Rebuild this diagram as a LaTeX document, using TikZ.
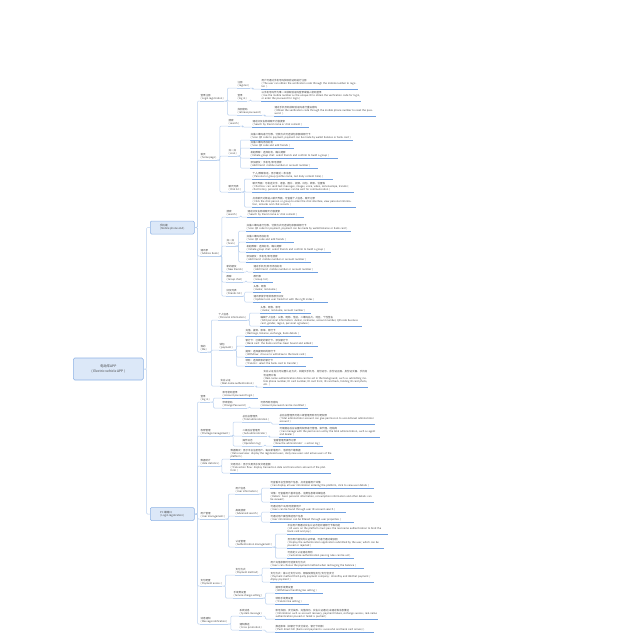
\documentclass[tikz,border=0pt]{standalone}
\usepackage{fontspec}
\setmainfont{Noto Sans CJK SC}
\XeTeXlinebreaklocale "zh"
\XeTeXlinebreakskip=0pt plus 1pt
\definecolor{mapline}{HTML}{B9D0EE}
\definecolor{leafblue}{HTML}{6E9FE0}
\definecolor{boxfill}{HTML}{DCE8F8}
\definecolor{boxedge}{HTML}{8DB2E5}
\definecolor{maptext}{HTML}{404040}
\tikzset{
  rootbox/.style={draw=boxedge, fill=boxfill, rounded corners=1.5pt, line width=0.6pt, text=maptext,
    align=center, font=\fontsize{3.3}{4.3}\selectfont, minimum width=70pt, minimum height=22pt, anchor=west},
  mainbox/.style={draw=boxedge, fill=boxfill, rounded corners=1.2pt, line width=0.5pt, text=maptext,
    align=left, font=\fontsize{2.6}{3.3}\selectfont, minimum width=44pt, minimum height=13pt, anchor=west},
  mapnode/.style={text=maptext, align=left, font=\fontsize{2.5}{3.2}\selectfont,
    inner xsep=0.4pt, inner ysep=0.6pt, anchor=south west},
  topic/.style={mapnode, append after command={(\tikzlastnode.south west) edge[draw=mapline, line width=0.5pt] (\tikzlastnode.south east)}},
  leaf/.style={mapnode, append after command={(\tikzlastnode.south west) edge[draw=leafblue, line width=0.8pt] (\tikzlastnode.south east)}},
  conn/.style={draw=mapline, line width=0.5pt, rounded corners=1pt}
}
\begin{document}
\begin{tikzpicture}[x=1pt, y=-1pt]
  \useasboundingbox (0,0) rectangle (640,640);
  % Root and main branches
  \node[rootbox] (app) at (73,369) {电动车APP\\( Electric vehicle APP )};
  \node[mainbox] (phone) at (150,227.5) {手机端\\( Mobile phone end )};
  \node[mainbox] (pc) at (150,514) {PC 端端口\\( Login registration )};

  % Mobile phone end
  \node[topic] (login) at (200,101) {登录注册\\( Login registration )};
  \node[topic] (home) at (200,160) {首页\\( home page )};
  \node[topic] (contact) at (200,256) {通讯录\\( Address book )};
  \node[topic] (mine) at (200,352) {我的\\( Me )};

  \node[topic] (reg) at (237,88) {注册\\( register )};
  \node[topic] (logon) at (237,101) {登录\\( log in )};
  \node[topic] (findpw) at (237,115) {找回密码\\( retrieve password )};
  \node[leaf, text width=96pt] (regA) at (261,89) {用户可通过手机号码获取验证码进行注册\\( The user can obtain the verification code through the mobile number to register. )};
  \node[leaf, text width=99pt] (logonA) at (261,101) {以手机号码作为唯一ID获取验证码登录或输入密码登录\\( Use the mobile number as the unique ID to obtain the verification code for login, or enter the password for login )};
  \node[leaf, text width=101pt] (findpwA) at (274,116) {通过手机号码获取验证码进行重设密码\\( Obtain the verification code through the mobile phone number to reset the password. )};

  \node[topic] (hsearch) at (228,126) {搜索\\( search )};
  \node[topic] (hscan) at (228,156) {扫一扫\\( scan )};
  \node[topic] (hchat) at (228,192) {聊天列表\\( Chat list )};
  \node[leaf, text width=56pt] (hsearchA) at (252,127) {通过好友名称或聊天内容搜索\\( Search by friend name or chat content )};
  \node[leaf, text width=102pt] (hscanA) at (250,140) {扫描二维码进行付款，付款方式可选钱包余额或银行卡\\( Scan QR code to payment, payment can be made by wallet balance or bank card )};
  \node[leaf, text width=43pt] (hscanB) at (250,148) {扫描二维码添加好友\\( Scan QR code and add friends )};
  \node[leaf, text width=87pt] (hscanC) at (250,158) {发起群聊：选择好友，确认建群\\( Initiate group chat: select friends and confirm to build a group )};
  \node[leaf, text width=67pt] (hscanD) at (250,168) {添加朋友：手机号/账号搜索\\( Add friend: mobile number or account number )};
  \node[leaf, text width=80pt] (hchatA) at (252,179) {个人/群聊会话，显示最近一条消息\\( Personal or group (profile name, last daily content time) )};
  \node[leaf, text width=101pt] (hchatB) at (252,192) {聊天界面：可发送文字、语音、图片、视频、红包、转账、位置等\\( Chat box: can send text messages, images, voice, video, red envelope, transfer; chat history, personal and news can be sent for communication )};
  \node[leaf, text width=103pt] (hchatC) at (252,207) {点击聊天对象进入聊天界面，可查看个人信息、聊天记录\\( Click the chat person or group to enter the chat interface, view personal information, remarks and chat records )};

  \node[topic] (csearch) at (226,217) {搜索\\( search )};
  \node[topic] (cscan) at (226,246) {扫一扫\\( Scan )};
  \node[topic] (cnew) at (226,272) {新的朋友\\( New friends )};
  \node[topic] (cgroup) at (226,282) {群聊\\( Group chat )};
  \node[topic] (cfriend) at (226,296) {好友列表\\( Friends list )};
  \node[leaf, text width=56pt] (csearchA) at (247,217) {通过好友名称或聊天内容搜索\\( Search by friend name or chat content )};
  \node[leaf, text width=104pt] (cscanA) at (246,231) {扫描二维码进行付款，付款方式可选钱包余额或银行卡\\( Scan QR code for payment, payment can be made by wallet balance or bank card )};
  \node[leaf, text width=47pt] (cscanB) at (246,242) {扫描二维码添加好友\\( Scan QR code and add friends )};
  \node[leaf, text width=84pt] (cscanC) at (246,252) {发起群聊：选择好友，确认建群\\( Initiate group chat: select friends and confirm to build a group )};
  \node[leaf, text width=64pt] (cscanD) at (246,262) {添加朋友：手机号/账号搜索\\( Add friend: mobile number or account number )};
  \node[leaf, text width=64pt] (cnewA) at (253,272) {通过手机号/账号添加好友\\( Add friend: mobile number or account number )};
  \node[leaf, text width=19pt] (cgroupA) at (253,282) {群列表\\( Group list )};
  \node[leaf, text width=27pt] (cfriendA) at (253,292) {头像、昵称\\( Avatar, nickname )};
  \node[leaf, text width=74pt] (cfriendB) at (253,302) {通讯录按字母排序展示好友\\( Update local user friend list with the right index )};

  \node[topic] (minfo) at (218,320) {个人信息\\( Personal information )};
  \node[topic] (mwallet) at (219,350) {钱包\\( payment )};
  \node[topic] (mreal) at (220,386) {实名认证\\( Real-name authentication )};
  \node[leaf, text width=50pt] (minfoA) at (260,313) {头像、昵称、账号\\( Avatar, nickname, account number )};
  \node[leaf, text width=101pt] (minfoB) at (260,326) {编辑个人信息：头像、昵称、性别、二维码名片、地区、个性签名\\( Edit personal information: Avatar, nickname, account number, QR code business card, gender, region, personal signature )};
  \node[leaf, text width=55pt] (mwalletA) at (245,336) {充值、提现、账单、银行卡\\( Recharge, balance, exchange, bank details )};
  \node[leaf, text width=72pt] (mwalletB) at (245,346) {银行卡：已绑定的银行卡、添加银行卡\\( Bank card: the bank card has been bound and added )};
  \node[leaf, text width=67pt] (mwalletC) at (245,357) {提现：选择提现到的银行卡\\( Withdraw: choose to withdraw to the bank card )};
  \node[leaf, text width=60pt] (mwalletD) at (245,366) {转账：选择转账的银行卡\\( Transfer: select the bank card to transfer )};
  \node[leaf, text width=104pt] (mrealA) at (263,387) {实名认证后台可设置认证方式，如提交手机号、身份证号、身份证正面、身份证反面、手持身份证照片等\\( Real-name authentication data can be set in the background, such as submitting mobile phone number, ID card number, ID card front, ID card back, holding ID card photo, etc. )};

  % PC end
  \node[topic] (pclogin) at (200,402) {登录\\( log in )};
  \node[topic] (pcright) at (200,436) {权限管理\\( Privilege management )};
  \node[topic] (pcdata) at (200,466) {数据统计\\( data statistics )};
  \node[topic] (pcuser) at (200,519) {用户管理\\( User management )};
  \node[topic] (pcpay) at (200,586) {支付配置\\( Payment access )};
  \node[topic] (pcmsg) at (200,624) {消息通知\\( Message notification )};

  \node[leaf, text width=35pt] (pwlogin) at (222,398) {账号密码登录\\( Account password login )};
  \node[topic] (chpw) at (222,408) {修改密码\\( Change Password )};
  \node[leaf, text width=47pt] (chpwA) at (260,408) {可修改账号密码\\( Account password can be modified )};

  \node[topic] (rtotal) at (242,422) {总后台管理员\\( Total administration )};
  \node[topic] (rsub) at (242,436) {二级后台管理员\\( Sub-administrator )};
  \node[topic] (rlog) at (242,446) {操作日志\\( Operation log )};
  \node[leaf, text width=95pt] (rtotalA) at (279,424) {总后台管理员可给二级管理员账号分配权限\\( Total administrator account can give permission to second-level administrator account )};
  \node[leaf, text width=100pt] (rsubA) at (279,437) {可根据总后台设置的权限进行管理，如代理、经销商\\( Can manage with the permission set by the total administration, such as agent and dealer )};
  \node[leaf, text width=49pt] (rlogA) at (273,446) {查看管理员操作记录\\( View the administrator's action log )};

  \node[leaf, text width=103pt] (dataA) at (230,459) {数据概况：显示平台注册用户、每日新增用户、活跃用户等数据\\( Data overview: display the registered users, daily new users and active users of the platform )};
  \node[leaf, text width=100pt] (dataB) at (230,473) {交易流水：显示交易流水及交易金额\\( Transaction flow: display transaction data and transaction amount of the platform )};

  \node[topic] (uinfo) at (235,494) {用户信息\\( User information )};
  \node[topic] (usearch) at (235,516) {高级搜索\\( Advanced search )};
  \node[topic] (uauth) at (235,547) {认证管理\\( Authentication management )};
  \node[leaf, text width=103pt] (uinfoA) at (270,488) {可查看平台全部用户信息，点击查看用户详情\\( Can display all user information entering the platform, click to view user details )};
  \node[leaf, text width=103pt] (uinfoB) at (270,502) {详情：可查看用户基本信息、消费信息等详细信息\\( Details: basic personal information, consumption information and other details can be viewed )};
  \node[leaf, text width=75pt] (usearchA) at (270,512) {可通过用户ID/账号搜索用户\\( Users can be found through user ID account search )};
  \node[leaf, text width=83pt] (usearchB) at (270,522) {可通过用户属性筛选用户信息\\( User information can be filtered through user properties )};
  \node[leaf, text width=100pt] (uauthA) at (287,534) {平台用户需通过实名认证才能开通银行卡等功能\\( All users on the platform must pass the real-name authentication to bind the bank card and pay )};
  \node[leaf, text width=96pt] (uauthB) at (287,548) {显示用户提交的认证申请，可进行通过或驳回\\( Display the authentication application submitted by the user, which can be passed or rejected )};
  \node[leaf, text width=66pt] (uauthC) at (287,558) {可自定义认证通过规则\\( Customize authentication passing rules can be set )};

  \node[topic] (paymode) at (235,575) {支付方式\\( Payment method )};
  \node[topic] (payfee) at (233,598) {手续费设置\\( Service charge setting )};
  \node[leaf, text width=93pt] (paymodeA) at (270,568) {用户充值余额时可选择支付方式\\( Users can choose the payment method when recharging the balance )};
  \node[leaf, text width=103pt] (paymodeB) at (270,582) {支付方式：第三方支付公司、银联及微信支付/支付宝支付\\( Payment method third-party payment company: UnionPay and WeChat payment / Alipay payment )};
  \node[leaf, text width=47pt] (payfeeA) at (275,593) {提现手续费设置\\( Withdrawal handling fee setting )};
  \node[leaf, text width=33pt] (payfeeB) at (275,604) {转账手续费设置\\( Transfer fee setting )};

  \node[topic] (msgsys) at (239,616) {系统消息\\( System message )};
  \node[topic] (msgpush) at (239,630) {通知推送\\( Cross promotion )};
  \node[leaf, text width=102pt] (msgsysA) at (275,619) {账号找回、支付失败、充值成功、实名认证通过/未通过等消息推送\\( Information such as account recovery, payment failure, recharge success, real-name authentication passed or failed is pushed )};
  \node[leaf, text width=98pt] (msgpushA) at (275,632) {推送账单（如银行卡支付成功、银行卡到账）\\( Push direct bill (bank card payment is successful and bank card arrives) )};

  % Connectors
  \foreach \c in {phone,pc} \draw[conn] (app.east) -- ++(3,0) |- (\c.west);
  \foreach \c in {login,home,contact,mine} \draw[conn] (phone.east) -- ++(3,0) |- (\c.south west);
  \foreach \c in {pclogin,pcright,pcdata,pcuser,pcpay,pcmsg} \draw[conn] (pc.east) -- ++(3,0) |- (\c.south west);
  \foreach \c in {reg,logon,findpw} \draw[conn] (login.south east) -- ++(3,0) |- (\c.south west);
  \foreach \c in {hsearch,hscan,hchat} \draw[conn] (home.south east) -- ++(3,0) |- (\c.south west);
  \foreach \c in {csearch,cscan,cnew,cgroup,cfriend} \draw[conn] (contact.south east) -- ++(2,0) |- (\c.south west);
  \foreach \c in {minfo,mwallet,mreal} \draw[conn] (mine.south east) -- ++(4,0) |- (\c.south west);
  \draw[conn] (reg.south east) -- ++(3,0) |- (regA.south west);
  \draw[conn] (logon.south east) -- ++(3,0) |- (logonA.south west);
  \draw[conn] (findpw.south east) -- ++(3,0) |- (findpwA.south west);
  \draw[conn] (hsearch.south east) -- ++(3,0) |- (hsearchA.south west);
  \foreach \c in {hscanA,hscanB,hscanC,hscanD} \draw[conn] (hscan.south east) -- ++(3,0) |- (\c.south west);
  \foreach \c in {hchatA,hchatB,hchatC} \draw[conn] (hchat.south east) -- ++(3,0) |- (\c.south west);
  \draw[conn] (csearch.south east) -- ++(3,0) |- (csearchA.south west);
  \foreach \c in {cscanA,cscanB,cscanC,cscanD} \draw[conn] (cscan.south east) -- ++(3,0) |- (\c.south west);
  \draw[conn] (cnew.south east) -- ++(3,0) |- (cnewA.south west);
  \draw[conn] (cgroup.south east) -- ++(3,0) |- (cgroupA.south west);
  \foreach \c in {cfriendA,cfriendB} \draw[conn] (cfriend.south east) -- ++(2,0) |- (\c.south west);
  \foreach \c in {minfoA,minfoB} \draw[conn] (minfo.south east) -- ++(3,0) |- (\c.south west);
  \foreach \c in {mwalletA,mwalletB,mwalletC,mwalletD} \draw[conn] (mwallet.south east) -- ++(3,0) |- (\c.south west);
  \draw[conn] (mreal.south east) -- ++(2,0) |- (mrealA.south west);
  \foreach \c in {pwlogin,chpw} \draw[conn] (pclogin.south east) -- ++(3,0) |- (\c.south west);
  \draw[conn] (chpw.south east) -- ++(3,0) |- (chpwA.south west);
  \foreach \c in {rtotal,rsub,rlog} \draw[conn] (pcright.south east) -- ++(3,0) |- (\c.south west);
  \draw[conn] (rtotal.south east) -- ++(2,0) |- (rtotalA.south west);
  \draw[conn] (rsub.south east) -- ++(2,0) |- (rsubA.south west);
  \draw[conn] (rlog.south east) -- ++(3,0) |- (rlogA.south west);
  \foreach \c in {dataA,dataB} \draw[conn] (pcdata.south east) -- ++(2,0) |- (\c.south west);
  \foreach \c in {uinfo,usearch,uauth} \draw[conn] (pcuser.south east) -- ++(3,0) |- (\c.south west);
  \foreach \c in {uinfoA,uinfoB} \draw[conn] (uinfo.south east) -- ++(3,0) |- (\c.south west);
  \foreach \c in {usearchA,usearchB} \draw[conn] (usearch.south east) -- ++(3,0) |- (\c.south west);
  \foreach \c in {uauthA,uauthB,uauthC} \draw[conn] (uauth.south east) -- ++(3,0) |- (\c.south west);
  \foreach \c in {paymode,payfee} \draw[conn] (pcpay.south east) -- ++(3,0) |- (\c.south west);
  \foreach \c in {paymodeA,paymodeB} \draw[conn] (paymode.south east) -- ++(3,0) |- (\c.south west);
  \foreach \c in {payfeeA,payfeeB} \draw[conn] (payfee.south east) -- ++(3,0) |- (\c.south west);
  \foreach \c in {msgsys,msgpush} \draw[conn] (pcmsg.south east) -- ++(3,0) |- (\c.south west);
  \draw[conn] (msgsys.south east) -- ++(3,0) |- (msgsysA.south west);
  \draw[conn] (msgpush.south east) -- ++(3,0) |- (msgpushA.south west);
\end{tikzpicture}
\end{document}
